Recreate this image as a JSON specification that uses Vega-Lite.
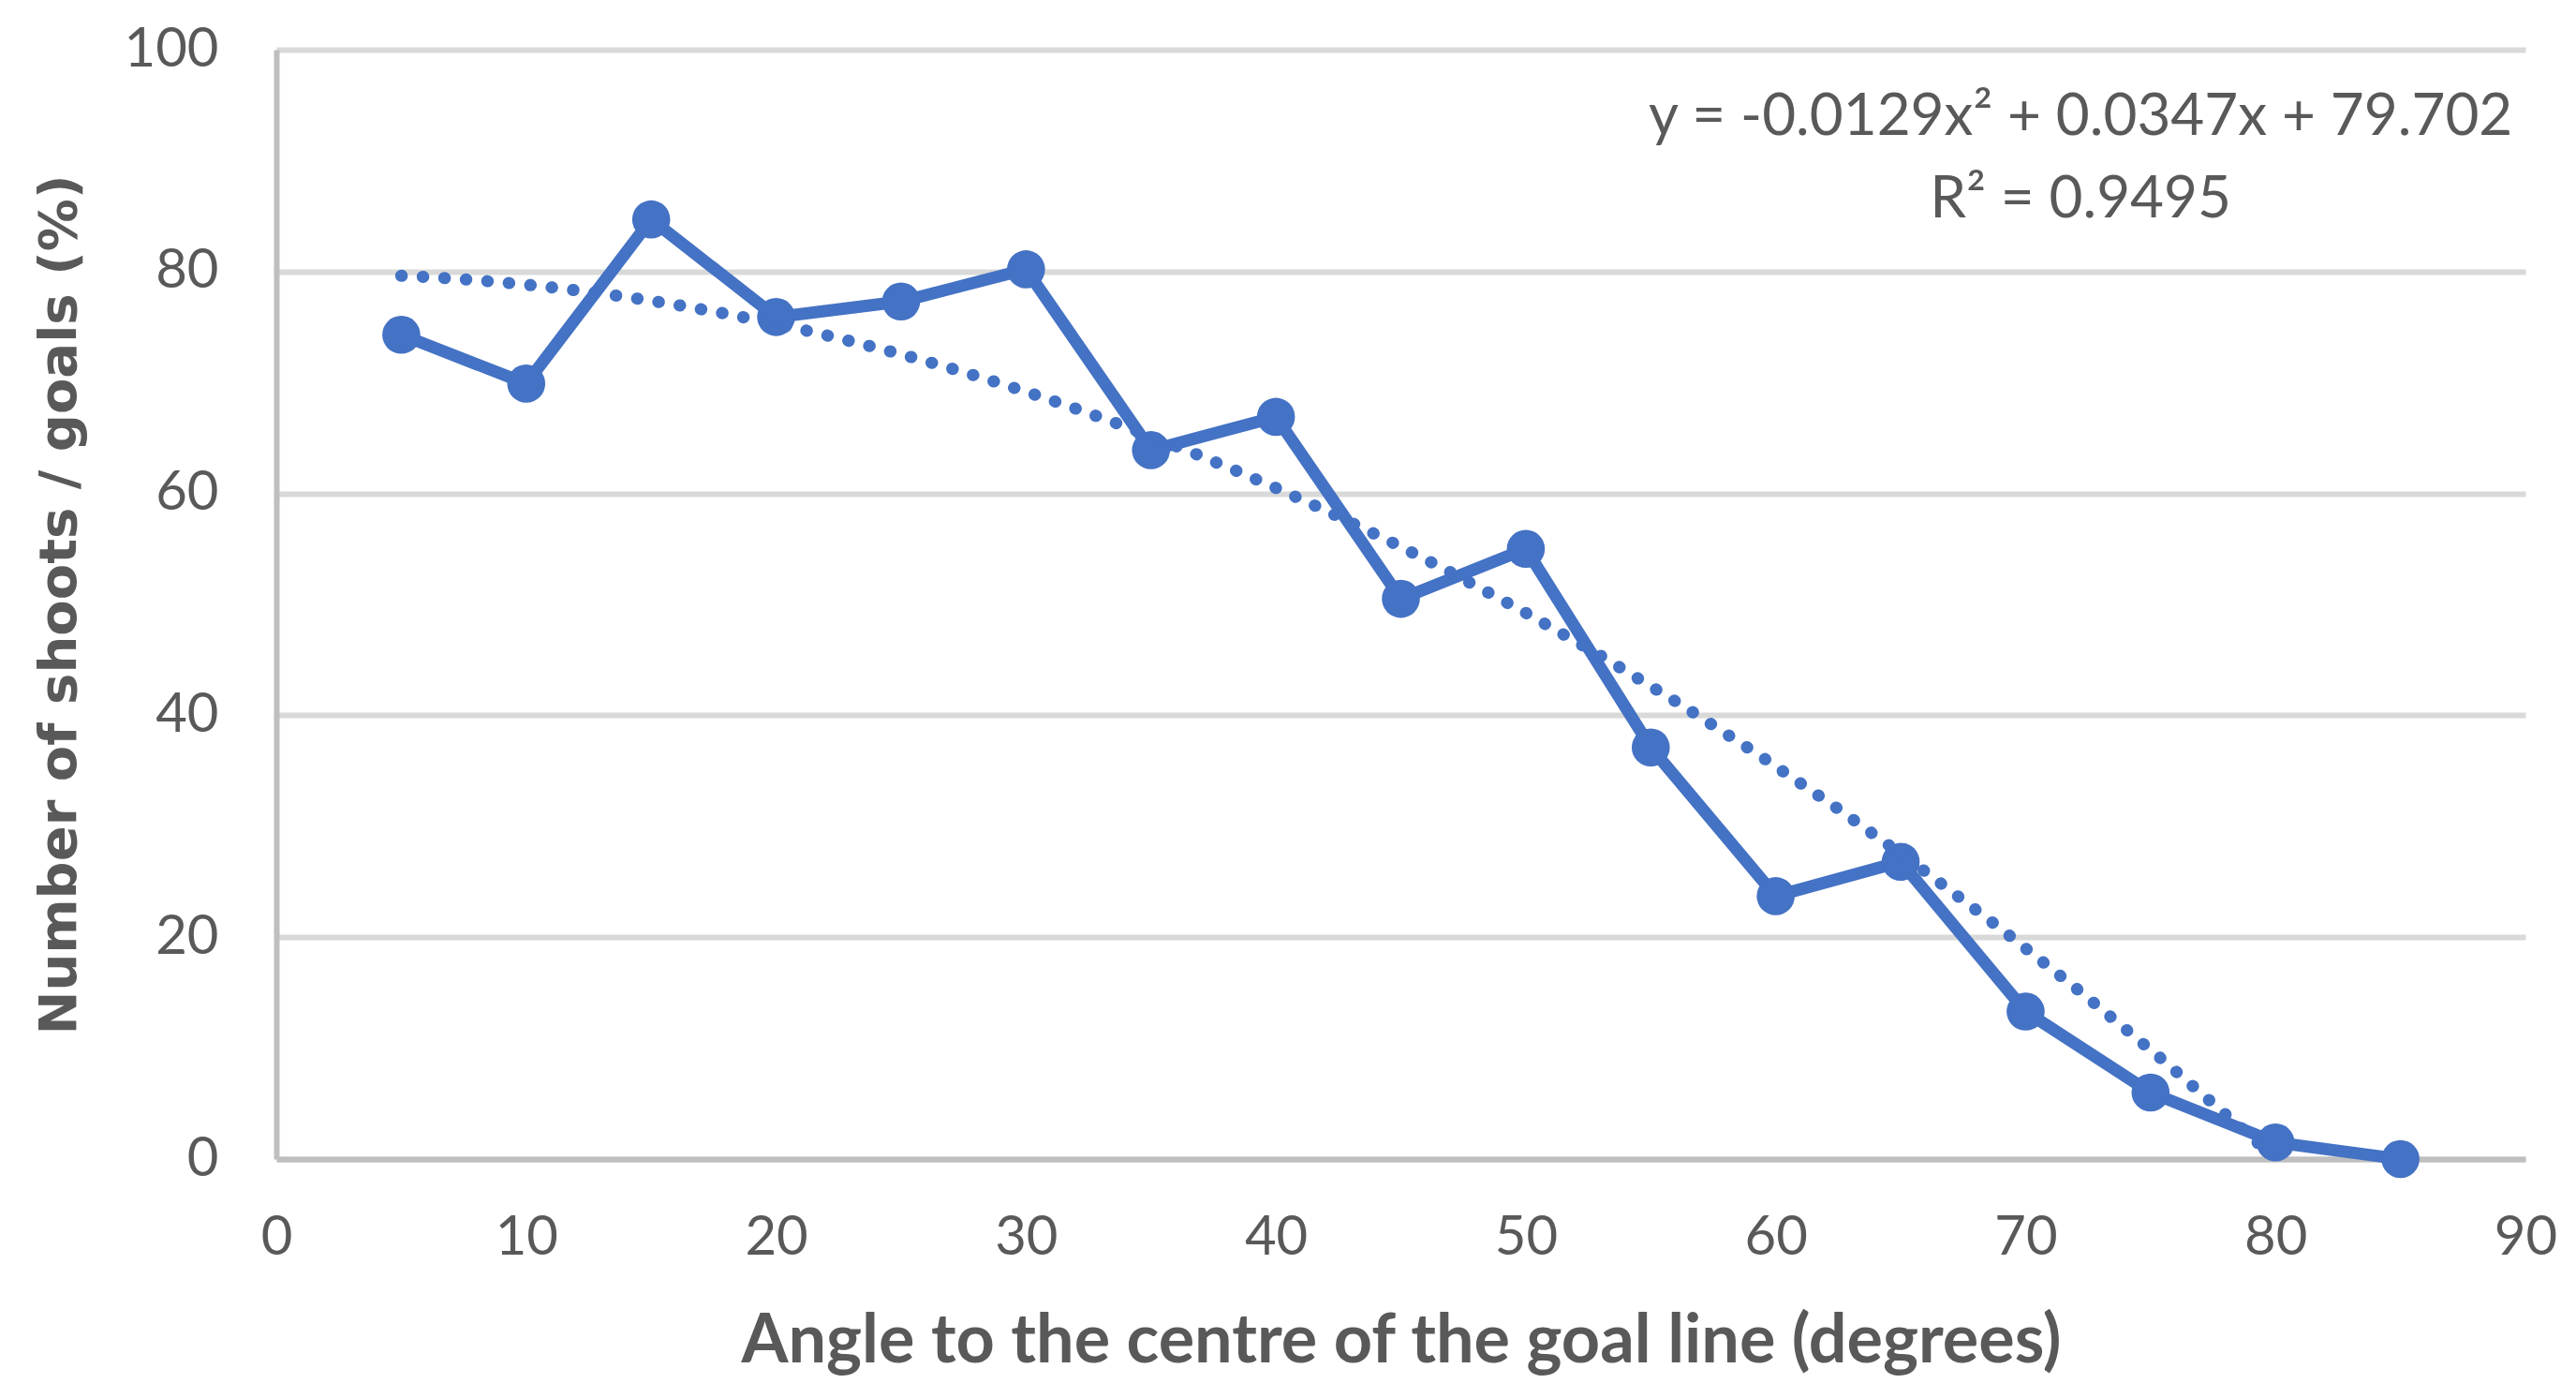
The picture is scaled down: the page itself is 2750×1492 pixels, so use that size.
{
  "$schema": "https://vega.github.io/schema/vega-lite/v6.json",
  "width": 2401,
  "height": 1184,
  "autosize": {"type": "none"},
  "padding": {"left": 295, "top": 53, "right": 54, "bottom": 255},
  "background": "white",
  "config": {"view": {"stroke": null}, "font": "Lato"},
  "data": {
    "values": [
      {"angle": 5, "pct": 74.3},
      {"angle": 10, "pct": 69.9},
      {"angle": 15, "pct": 84.7},
      {"angle": 20, "pct": 75.9},
      {"angle": 25, "pct": 77.3},
      {"angle": 30, "pct": 80.2},
      {"angle": 35, "pct": 63.9},
      {"angle": 40, "pct": 66.9},
      {"angle": 45, "pct": 50.5},
      {"angle": 50, "pct": 55.0},
      {"angle": 55, "pct": 37.1},
      {"angle": 60, "pct": 23.7},
      {"angle": 65, "pct": 26.8},
      {"angle": 70, "pct": 13.3},
      {"angle": 75, "pct": 6.0},
      {"angle": 80, "pct": 1.5},
      {"angle": 85, "pct": 0.0}
    ]
  },
  "encoding": {
    "x": {
      "field": "angle",
      "type": "quantitative",
      "scale": {"domain": [0, 90], "nice": false, "zero": false},
      "axis": {
        "title": "Angle to the centre of the goal line (degrees)",
        "values": [0, 10, 20, 30, 40, 50, 60, 70, 80, 90],
        "grid": false,
        "ticks": false,
        "domain": true,
        "domainColor": "#bfbfbf",
        "domainWidth": 6,
        "labelFont": "Lato",
        "labelFontSize": 58,
        "labelColor": "#595959",
        "labelPadding": 55,
        "labelFlush": false,
        "titleFont": "Lato",
        "titleFontWeight": "bold",
        "titleFontSize": 72,
        "titleColor": "#595959",
        "titlePadding": 46
      }
    },
    "y": {
      "field": "pct",
      "type": "quantitative",
      "scale": {"domain": [0, 100], "nice": false},
      "axis": {
        "title": "Number of shoots / goals (%)",
        "values": [0, 20, 40, 60, 80, 100],
        "grid": true,
        "gridColor": "#d9d9d9",
        "gridWidth": 6,
        "ticks": false,
        "domain": true,
        "domainColor": "#bfbfbf",
        "domainWidth": 6,
        "labelFont": "Lato",
        "labelFontSize": 58,
        "labelColor": "#595959",
        "labelPadding": 62,
        "labelFlush": false,
        "titleFont": "DejaVu Sans",
        "titleFontWeight": "bold",
        "titleFontSize": 56,
        "titleColor": "#595959",
        "titlePadding": 40
      }
    }
  },
  "layer": [
    {
      "mark": {"type": "line", "color": "#4472C4", "strokeWidth": 13}
    },
    {
      "mark": {"type": "point", "filled": true, "size": 1650, "color": "#4472C4", "opacity": 1}
    },
    {
      "transform": [
        {"regression": "pct", "on": "angle", "method": "poly", "order": 2, "extent": [5, 85]}
      ],
      "mark": {"type": "line", "color": "#4472C4", "strokeWidth": 13, "strokeDash": [0.5, 22.5], "strokeCap": "round", "clip": true}
    },
    {
      "data": {
        "values": [
          {"label": "y = -0.0129x² + 0.0347x + 79.702", "lx": 72.2, "ly": 92.3},
          {"label": "R² = 0.9495", "lx": 72.2, "ly": 84.9}
        ]
      },
      "mark": {"type": "text", "font": "Lato", "fontSize": 62, "color": "#595959", "align": "center", "baseline": "alphabetic"},
      "encoding": {
        "x": {"field": "lx", "type": "quantitative"},
        "y": {"field": "ly", "type": "quantitative"},
        "text": {"field": "label", "type": "nominal"}
      }
    }
  ]
}
